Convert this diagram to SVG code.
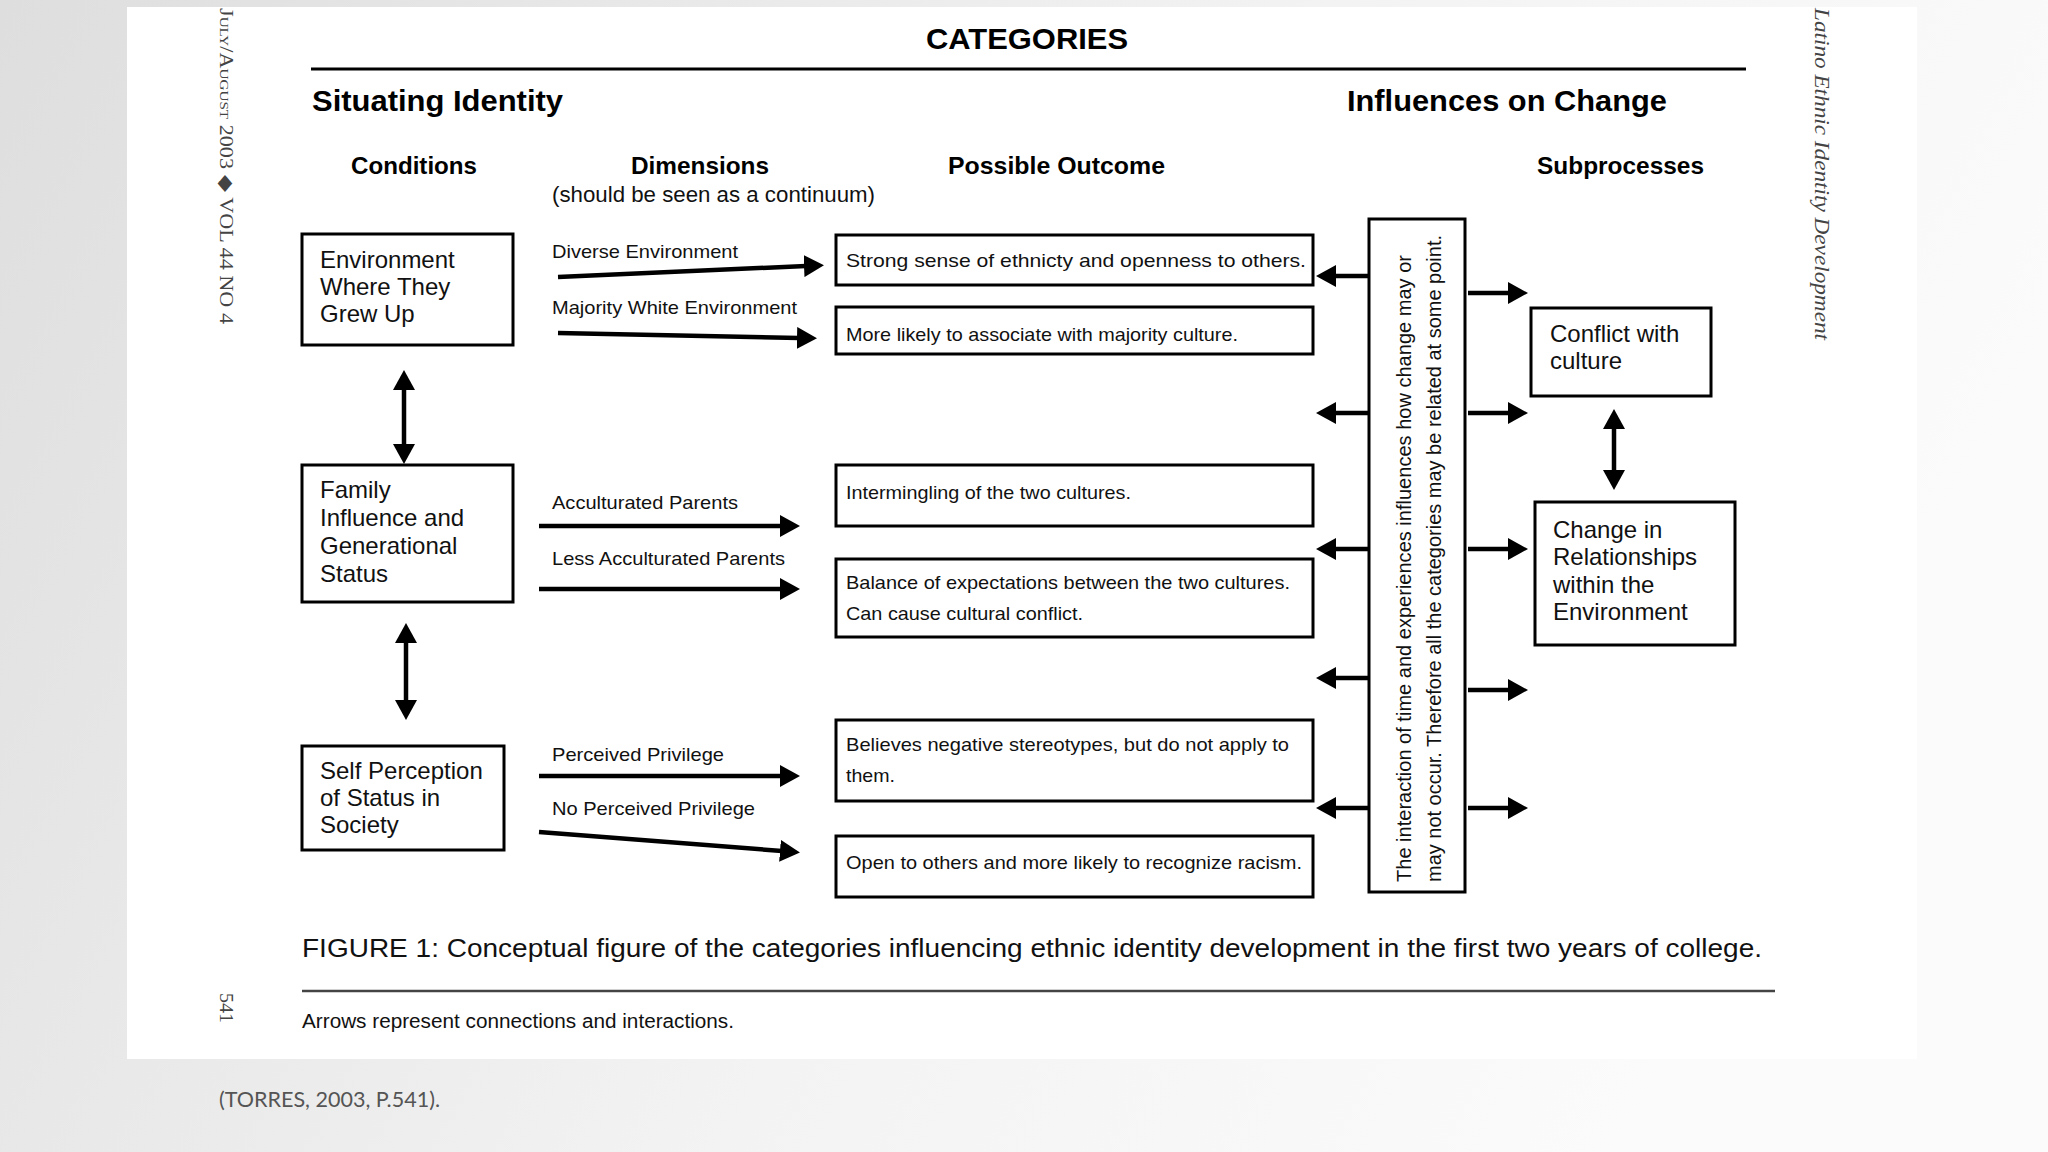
<svg xmlns="http://www.w3.org/2000/svg" width="2048" height="1152" viewBox="0 0 2048 1152">
<defs>
  <linearGradient id="bg" x1="0" y1="0" x2="1" y2="0.3">
    <stop offset="0" stop-color="#dedede"/>
    <stop offset="0.6" stop-color="#f3f3f3"/>
    <stop offset="1" stop-color="#fbfbfb"/>
  </linearGradient>
  <marker id="ah" viewBox="0 0 20 22" refX="2" refY="11" markerWidth="20" markerHeight="22" markerUnits="userSpaceOnUse" orient="auto-start-reverse" preserveAspectRatio="none">
    <path d="M0,0 L20,11 L0,22 z" fill="#000"/>
  </marker>
  <style>
    .box { fill: #fff; stroke: #000; stroke-width: 3; }
    .sans { font-family: "Liberation Sans", Arial, sans-serif; fill: #111; }
    .hdr { font-family: "Liberation Sans", Arial, sans-serif; font-weight: bold; fill: #000; }
    .cond { font-size: 24px; }
    .dim { font-size: 19px; }
    .out { font-size: 19px; }
    .con line { stroke: #000; stroke-width: 4.5; marker-end: url(#ah); }
    .con line.dbl { marker-start: url(#ah); }
    .serif { font-family: "Liberation Serif", "Times New Roman", serif; fill: #444; }
  </style>
</defs>

<rect x="0" y="0" width="2048" height="1152" fill="url(#bg)"/>
<rect x="127" y="7" width="1790" height="1052" fill="#fff"/>

<!-- margin texts -->
<text class="serif" transform="translate(220,8) rotate(90)" font-size="19" font-variant="small-caps" textLength="316" lengthAdjust="spacingAndGlyphs">July/August 2003 ◆ VOL 44 NO 4</text>
<text class="serif" transform="translate(220,993) rotate(90)" font-size="19" textLength="30" lengthAdjust="spacingAndGlyphs">541</text>
<text class="serif" transform="translate(1815,8) rotate(90)" font-size="22" font-style="italic" textLength="332" lengthAdjust="spacingAndGlyphs">Latino Ethnic Identity Development</text>

<!-- headers -->
<text class="hdr" x="926" y="49" font-size="30" textLength="202" lengthAdjust="spacingAndGlyphs">CATEGORIES</text>
<line x1="311" y1="69" x2="1746" y2="69" stroke="#000" stroke-width="3"/>
<text class="hdr" x="312" y="111" font-size="29" textLength="251" lengthAdjust="spacingAndGlyphs">Situating Identity</text>
<text class="hdr" x="1347" y="111" font-size="29" textLength="320" lengthAdjust="spacingAndGlyphs">Influences on Change</text>
<text class="hdr" x="351" y="174" font-size="24" textLength="126" lengthAdjust="spacingAndGlyphs">Conditions</text>
<text class="hdr" x="631" y="174" font-size="24" textLength="138" lengthAdjust="spacingAndGlyphs">Dimensions</text>
<text class="hdr" x="948" y="174" font-size="24" textLength="217" lengthAdjust="spacingAndGlyphs">Possible Outcome</text>
<text class="hdr" x="1537" y="174" font-size="24" textLength="167" lengthAdjust="spacingAndGlyphs">Subprocesses</text>
<text class="sans" x="552" y="202" font-size="22" textLength="323" lengthAdjust="spacingAndGlyphs">(should be seen as a continuum)</text>

<!-- condition nodes -->
<g id="cond-environment">
  <rect class="box" x="302" y="234" width="211" height="111"/>
  <text class="sans cond" x="320" y="268">Environment</text>
  <text class="sans cond" x="320" y="295">Where They</text>
  <text class="sans cond" x="320" y="322">Grew Up</text>
</g>
<g id="cond-family">
  <rect class="box" x="302" y="465" width="211" height="137"/>
  <text class="sans cond" x="320" y="498">Family</text>
  <text class="sans cond" x="320" y="526">Influence and</text>
  <text class="sans cond" x="320" y="554">Generational</text>
  <text class="sans cond" x="320" y="582">Status</text>
</g>
<g id="cond-self">
  <rect class="box" x="302" y="746" width="202" height="104"/>
  <text class="sans cond" x="320" y="779">Self Perception</text>
  <text class="sans cond" x="320" y="806">of Status in</text>
  <text class="sans cond" x="320" y="833">Society</text>
</g>

<!-- dimension labels -->
<g id="dimension-labels">
  <text class="sans dim" x="552" y="258" textLength="186" lengthAdjust="spacingAndGlyphs">Diverse Environment</text>
  <text class="sans dim" x="552" y="314" textLength="245" lengthAdjust="spacingAndGlyphs">Majority White Environment</text>
  <text class="sans dim" x="552" y="509" textLength="186" lengthAdjust="spacingAndGlyphs">Acculturated Parents</text>
  <text class="sans dim" x="552" y="565" textLength="233" lengthAdjust="spacingAndGlyphs">Less Acculturated Parents</text>
  <text class="sans dim" x="552" y="761" textLength="172" lengthAdjust="spacingAndGlyphs">Perceived Privilege</text>
  <text class="sans dim" x="552" y="815" textLength="203" lengthAdjust="spacingAndGlyphs">No Perceived Privilege</text>
</g>

<!-- outcome nodes -->
<g id="out-strong">
  <rect class="box" x="836" y="235" width="477" height="50"/>
  <text class="sans out" x="846" y="267" textLength="460" lengthAdjust="spacingAndGlyphs">Strong sense of ethnicty and openness to others.</text>
</g>
<g id="out-majority">
  <rect class="box" x="836" y="307" width="477" height="47"/>
  <text class="sans out" x="846" y="341" textLength="392" lengthAdjust="spacingAndGlyphs">More likely to associate with majority culture.</text>
</g>
<g id="out-intermingling">
  <rect class="box" x="836" y="465" width="477" height="61"/>
  <text class="sans out" x="846" y="499" textLength="285" lengthAdjust="spacingAndGlyphs">Intermingling of the two cultures.</text>
</g>
<g id="out-balance">
  <rect class="box" x="836" y="559" width="477" height="78"/>
  <text class="sans out" x="846" y="589" textLength="444" lengthAdjust="spacingAndGlyphs">Balance of expectations between the two cultures.</text>
  <text class="sans out" x="846" y="620" textLength="237" lengthAdjust="spacingAndGlyphs">Can cause cultural conflict.</text>
</g>
<g id="out-believes">
  <rect class="box" x="836" y="720" width="477" height="81"/>
  <text class="sans out" x="846" y="751" textLength="443" lengthAdjust="spacingAndGlyphs">Believes negative stereotypes, but do not apply to</text>
  <text class="sans out" x="846" y="782" textLength="49" lengthAdjust="spacingAndGlyphs">them.</text>
</g>
<g id="out-open">
  <rect class="box" x="836" y="836" width="477" height="61"/>
  <text class="sans out" x="846" y="869" textLength="456" lengthAdjust="spacingAndGlyphs">Open to others and more likely to recognize racism.</text>
</g>

<!-- influences node -->
<g id="influences">
  <rect class="box" x="1369" y="219" width="96" height="673"/>
  <text class="sans" transform="translate(1411,882) rotate(-90)" font-size="21" textLength="627" lengthAdjust="spacingAndGlyphs">The interaction of time and experiences influences how change may or</text>
  <text class="sans" transform="translate(1441,882) rotate(-90)" font-size="21" textLength="647" lengthAdjust="spacingAndGlyphs">may not occur.  Therefore all the categories may be related at some point.</text>
</g>

<!-- subprocess nodes -->
<g id="sub-conflict">
  <rect class="box" x="1531" y="308" width="180" height="88"/>
  <text class="sans cond" x="1550" y="342">Conflict with</text>
  <text class="sans cond" x="1550" y="369">culture</text>
</g>
<g id="sub-change">
  <rect class="box" x="1535" y="502" width="200" height="143"/>
  <text class="sans cond" x="1553" y="538">Change in</text>
  <text class="sans cond" x="1553" y="565">Relationships</text>
  <text class="sans cond" x="1553" y="593">within the</text>
  <text class="sans cond" x="1553" y="620">Environment</text>
</g>

<!-- connectors -->
<g id="connectors" class="con">
  <line class="dbl" x1="404" y1="388" x2="404" y2="446"/>
  <line class="dbl" x1="406" y1="641" x2="406" y2="702"/>
  <line class="dbl" x1="1614" y1="427" x2="1614" y2="472"/>

  <line x1="558" y1="277" x2="806" y2="266"/>
  <line x1="558" y1="333" x2="799" y2="338"/>
  <line x1="539" y1="526" x2="782" y2="526"/>
  <line x1="539" y1="589" x2="782" y2="589"/>
  <line x1="539" y1="776" x2="782" y2="776"/>
  <line x1="539" y1="832" x2="782" y2="851"/>

  <line x1="1369" y1="276" x2="1334" y2="276"/>
  <line x1="1369" y1="413" x2="1334" y2="413"/>
  <line x1="1369" y1="549" x2="1334" y2="549"/>
  <line x1="1369" y1="678" x2="1334" y2="678"/>
  <line x1="1369" y1="808" x2="1334" y2="808"/>

  <line x1="1468" y1="293" x2="1510" y2="293"/>
  <line x1="1468" y1="413" x2="1510" y2="413"/>
  <line x1="1468" y1="549" x2="1510" y2="549"/>
  <line x1="1468" y1="690" x2="1510" y2="690"/>
  <line x1="1468" y1="808" x2="1510" y2="808"/>
</g>

<!-- caption -->
<text class="sans" x="302" y="957" font-size="26" fill="#222" textLength="1460" lengthAdjust="spacingAndGlyphs">FIGURE 1: Conceptual figure of the categories influencing ethnic identity development in the first two years of college.</text>
<line x1="302" y1="991" x2="1775" y2="991" stroke="#444" stroke-width="2.5"/>
<text class="sans" x="302" y="1028" font-size="20" fill="#222" textLength="432" lengthAdjust="spacingAndGlyphs">Arrows represent connections and interactions.</text>

<text x="219" y="1107" font-family="Lato, 'Open Sans', sans-serif" font-size="21" fill="#555" textLength="221" lengthAdjust="spacingAndGlyphs">(TORRES, 2003, P.541).</text>
</svg>
